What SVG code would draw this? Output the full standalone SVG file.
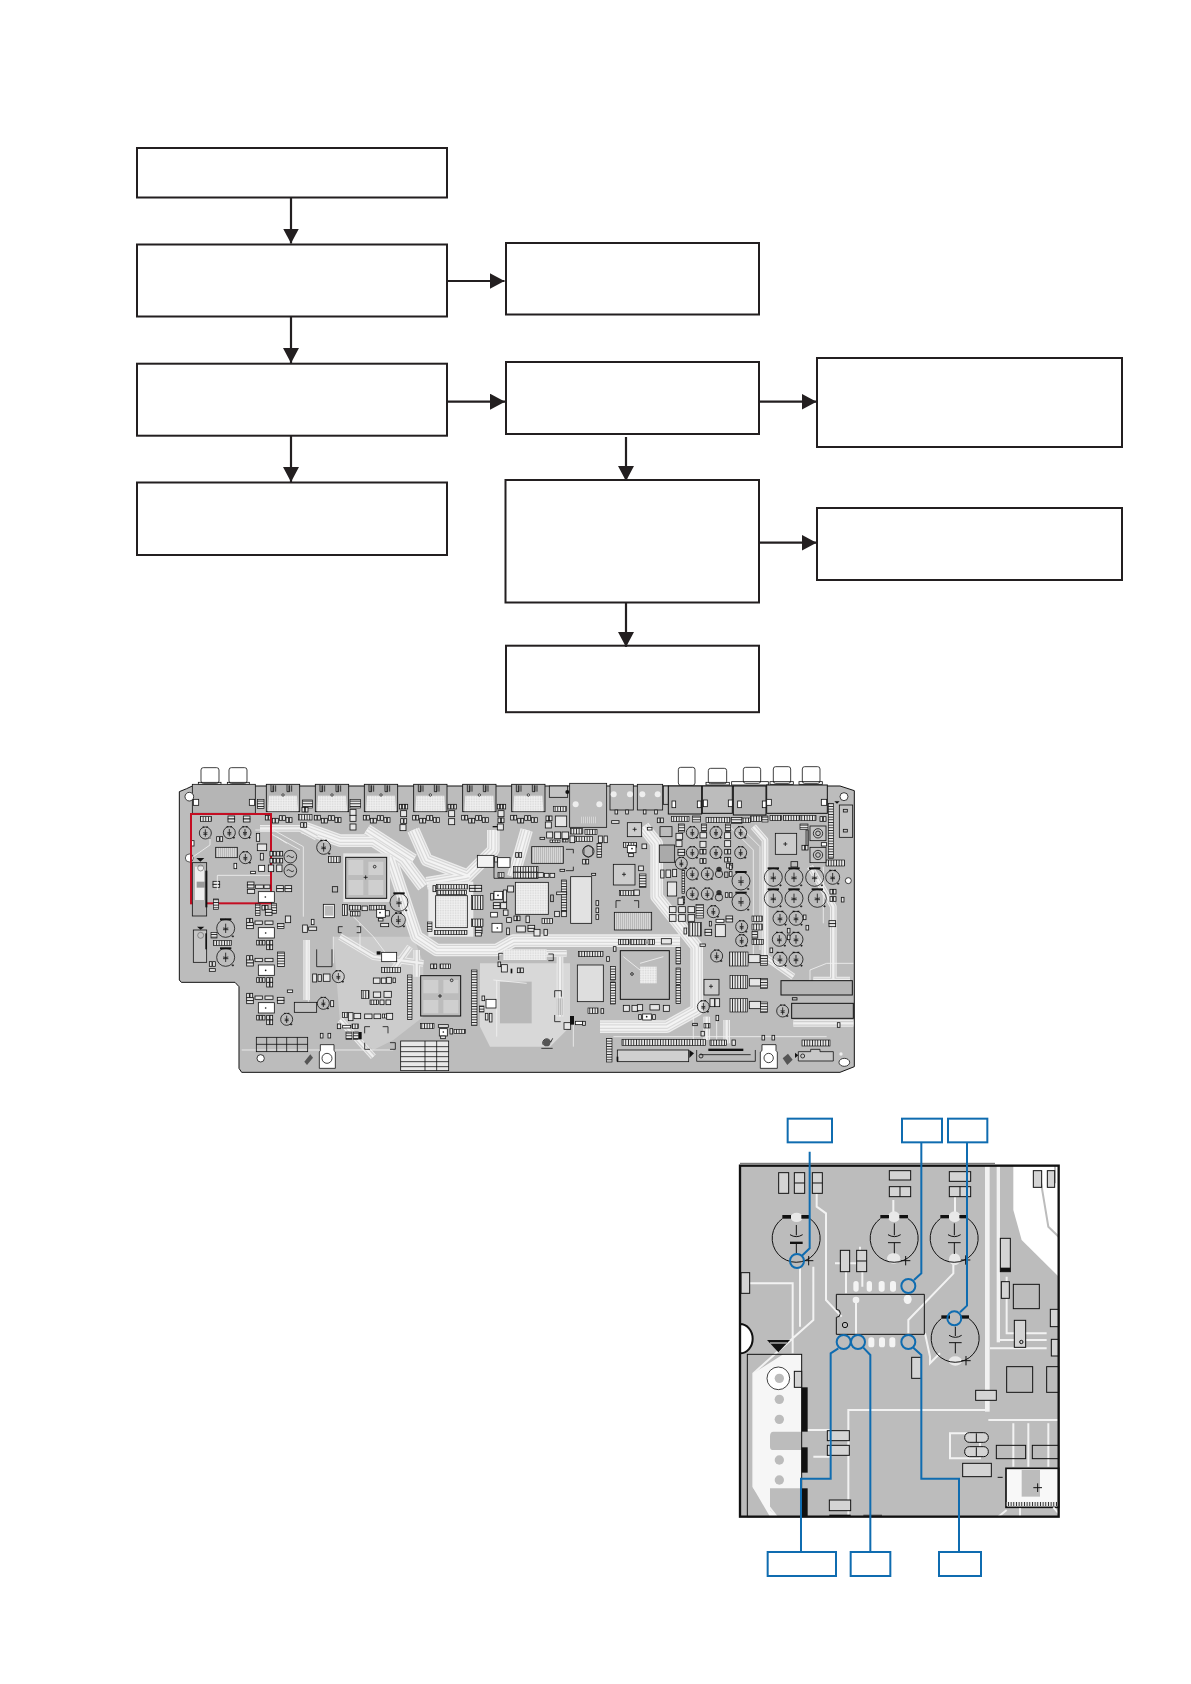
<svg xmlns="http://www.w3.org/2000/svg" width="1191" height="1684" viewBox="0 0 1191 1684">
<style>
.box{fill:#fff;stroke:#231f20;stroke-width:2}
.con{fill:none;stroke:#231f20;stroke-width:2.2;marker-end:url(#ah)}
.k{fill:none;stroke:#111;stroke-width:2.4}
.w{fill:#fff;stroke:#111;stroke-width:2.4}
.g{fill:#c4c4c4;stroke:#111;stroke-width:2.4}
.l{fill:#e6e6e6;stroke:#111;stroke-width:2.4}
.b{fill:#111;stroke:none}
.fine{fill:none;stroke:#f0f0f0;stroke-width:2.5}
.row{fill:url(#row);stroke:#111;stroke-width:2}
.col{fill:url(#col);stroke:#111;stroke-width:2}
.dot{fill:url(#dot);stroke:#111;stroke-width:2.4}
.hat{fill:url(#hat);stroke:#111;stroke-width:2.4}
.blue{fill:none;stroke:#0f6cb0;stroke-width:6}
.lab{fill:#fff;stroke:#0f6cb0;stroke-width:6}
.tr{fill:none;stroke:#f2f2f2;stroke-width:6}
.in{fill:none;stroke:#111;stroke-width:3}
.pad{fill:#d4d4d4;stroke:#111;stroke-width:3}
</style>
<defs>
<marker id="ah" markerUnits="userSpaceOnUse" markerWidth="15" markerHeight="16" refX="15" refY="8" orient="auto"><path d="M0 0L15 8L0 16z" fill="#231f20"/></marker>
<pattern id="row" width="8" height="8" patternUnits="userSpaceOnUse"><rect width="8" height="8" fill="#e8e8e8"/><rect width="2.4" height="8" fill="#111"/></pattern>
<pattern id="col" width="8" height="8" patternUnits="userSpaceOnUse"><rect width="8" height="8" fill="#e8e8e8"/><rect width="8" height="2.4" fill="#111"/></pattern>
<pattern id="dot" width="5" height="5" patternUnits="userSpaceOnUse"><rect width="5" height="5" fill="#f2f2f2"/><circle cx="2" cy="2" r="1.2" fill="#aaa"/></pattern>
<pattern id="hat" width="6" height="6" patternUnits="userSpaceOnUse"><rect width="6" height="6" fill="#d6d6d6"/><rect width="2" height="6" fill="#ababab"/></pattern>
<g id="wb">
<path d="M430 232L540 272H640L730 330L790 410"/>
<path d="M620 240L760 330"/>
<path d="M760 240L800 330L930 380"/>
<path d="M1000 240L1000 300L920 380L800 400"/>
<path d="M1100 240L1060 380"/>
<path d="M690 320L770 560L830 600H1010L1060 572H1560"/>
<path d="M1450 230L1490 280V440L1610 590V780L1520 830H1320"/>
</g>
<g id="nb">
<path d="M300 235H420L470 262"/>
<path d="M540 560L640 620L790 640"/>
<path d="M770 600V680"/>
<path d="M1070 610H1220"/>
<path d="M1200 620V800"/>
<path d="M540 810L640 920"/>
<path d="M440 570V750"/>
<path d="M700 660L750 590"/>
<path d="M1780 230L1815 270V620L1900 680"/>
<path d="M1950 350L2020 470V690"/>
<path d="M1960 690H2070M1900 820H2080"/>
<path d="M1640 870V800M1700 880V810"/>
</g>
<g id="u"><rect width="8" height="14" class="l"/></g>
<g id="v"><rect width="8" height="14" class="l"/><rect x="10" width="8" height="14" class="l"/></g>
<g id="t"><rect width="7" height="14" class="l"/><rect x="9" width="7" height="14" class="l"/><rect x="18" width="7" height="14" class="l"/></g>
<g id="s"><rect width="20" height="9" class="l"/><rect y="9" width="20" height="9" class="l"/></g>
<g id="q"><rect width="18" height="18" class="l"/></g>
<g id="c"><circle r="18" class="k"/><path class="k" d="M0-11V11M-6-1q6 3 12 0M-6 4H6M10 15h7M13.500 12v6" stroke-width="2"/><path d="M-8-18h5M3-18h5" stroke="#111" stroke-width="3"/></g>
<g id="cm"><circle r="21" class="k"/><path class="k" d="M0-13V13M-7-1q7 3 14 0M-7 4H7M13 19h7M16.500 16v6"/><path d="M-10-21h6M4-21h6" stroke="#111" stroke-width="4"/></g>
<g id="cb"><circle r="27" class="k" fill="none"/><path class="k" d="M0-14V14M-8-1q8 3 16 0M-8 4H8M18 24h7M21.500 21v6"/><path d="M-17-27h34" stroke="#111" stroke-width="6"/></g>
<g id="h"><rect width="100" height="82" fill="#b5b5b5" stroke="#111" stroke-width="2.600"/><path d="M8 34H92L95 81H5z" fill="url(#dot)"/><path class="k" d="M14 1V22H22V3M20 3V22M28 3V22M62 1V22H70V3M68 3V22M76 3V22"/><circle cx="50" cy="32" r="3.500" class="w"/><use href="#v" x="-3" y="93"/><use href="#v" x="18" y="102"/><use href="#v" x="39" y="94"/><use href="#v" x="59" y="100"/></g>
<g id="tq"><rect x="0" y="0" width="48" height="31" class="w"/><circle cx="22" cy="16" r="2.500" class="b"/><use href="#v" x="-35" y="-28"/><use href="#s" x="-35" y="-15"/><rect x="-10" y="-20" width="22" height="10" class="l"/><rect x="20" y="-20" width="24" height="10" class="l"/><use href="#t" x="-5" y="38"/><use href="#v" x="25" y="38"/><use href="#v" x="25" y="52"/></g>
</defs>

<g id="n1"><rect class="box" x="137" y="148" width="310" height="49.500"/></g>
<g id="n2"><rect class="box" x="137" y="244.500" width="310" height="72"/></g>
<g id="n3"><rect class="box" x="137" y="363.700" width="310" height="72"/></g>
<g id="n4"><rect class="box" x="137" y="482.500" width="310" height="72.500"/></g>
<g id="n5"><rect class="box" x="506" y="243" width="253" height="71.500"/></g>
<g id="n6"><rect class="box" x="506" y="362" width="253" height="72"/></g>
<g id="n7"><rect class="box" x="505.500" y="480" width="253.500" height="122.500"/></g>
<g id="n8"><rect class="box" x="506" y="645.700" width="253" height="66.500"/></g>
<g id="n9"><rect class="box" x="817" y="358" width="305" height="89"/></g>
<g id="n10"><rect class="box" x="817" y="508" width="305" height="72"/></g>
<g id="connectors">
<path class="con" d="M291 197.500V243.500"/>
<path class="con" d="M291 316.500V363"/>
<path class="con" d="M291 435.700V482"/>
<path class="con" d="M447 281H504.500"/>
<path class="con" d="M447 401.700H505"/>
<path class="con" d="M626 437V481"/>
<path class="con" d="M626 602.500V647"/>
<path class="con" d="M759 401.700H816.500"/>
<path class="con" d="M759 542.700H816.500"/>
</g>

<g id="board" transform="translate(160,750) scale(0.33333)">
<path d="M58 125L80 116L97 108H2040L2083 122V950L2040 967H245L237 955V710L225 697H64L58 690z" fill="#bcbcbc" stroke="#111" stroke-width="3"/>
<path d="M960 640H1230V830L1170 890H990L960 830z" fill="#d8d8d8"/><rect x="1020" y="695" width="95" height="125" fill="#b8b8b8"/>
<path d="M520 560H760L790 640V800L700 870L640 900L540 820z" fill="#cccccc"/>
<g fill="none" stroke-linejoin="round">
<use href="#wb" stroke="#ececec" stroke-width="38"/><use href="#wb" stroke="#d4d4d4" stroke-width="30"/><use href="#wb" stroke="#f2f2f2" stroke-width="24"/><use href="#wb" stroke="#dadada" stroke-width="14"/><use href="#wb" stroke="#f4f4f4" stroke-width="7"/>
<use href="#nb" stroke="#ececec" stroke-width="20"/><use href="#nb" stroke="#cfcfcf" stroke-width="14"/><use href="#nb" stroke="#f0f0f0" stroke-width="7"/>
</g>
<path class="fine" d="M286 240H340L430 290V500M330 250L420 300M350 260L380 280M445 570V760M520 560V640M1000 690L1100 700M1360 860H2000M245 900H700"/>
<path class="fine" d="M560 480L640 560L700 640M600 520V600M1010 860V690M1240 820V890M1600 870V800M1670 880V810"/>
<path class="fine" d="M1700 220L1780 300V620L1880 660M1740 230L1800 290V600M1990 350V520M2000 640H2080M1950 720V660L2000 640"/>
<rect x="550" y="310" width="140" height="146" fill="#e4e4e4"/>
<rect x="805" y="395" width="135" height="165" fill="#eaeaea"/>

<rect class="w" x="123" y="53" width="54" height="47" rx="7"/><rect class="w" x="207" y="53" width="54" height="47" rx="7"/>
<rect class="k" x="115" y="97" width="68" height="6"/><rect class="k" x="202" y="97" width="66" height="6"/>
<rect x="97" y="103" width="189" height="87" fill="#b5b5b5" stroke="#111" stroke-width="2.400"/>
<circle cx="88" cy="140" r="13" class="w"/><rect class="w" x="100" y="148" width="16" height="18"/><rect class="w" x="268" y="148" width="16" height="18"/>
<circle cx="88" cy="324" r="12" fill="#fff" stroke="#111" stroke-width="2"/>
<rect class="w" x="94" y="272" width="8" height="16"/>
<use href="#h" x="319" y="103"/><use href="#h" x="466" y="103"/><use href="#h" x="613" y="103"/><use href="#h" x="761" y="103"/><use href="#h" x="908" y="103"/><use href="#h" x="1055" y="103"/>
<rect class="col" x="292" y="148" width="20" height="28"/><rect class="col" x="428" y="150" width="30" height="24"/><use href="#v" x="426" y="172"/><rect class="row" x="416" y="194" width="40" height="16"/><use href="#v" x="422" y="218"/>
<rect class="col" x="570" y="148" width="32" height="26"/><use href="#q" x="570" y="178"/><use href="#q" x="570" y="196"/><use href="#q" x="570" y="222"/>
<use href="#t" x="718" y="163"/><use href="#q" x="722" y="182"/><use href="#v" x="722" y="206"/><use href="#q" x="720" y="224"/>
<use href="#t" x="864" y="163"/><use href="#q" x="866" y="182"/><use href="#q" x="866" y="206"/>
<use href="#t" x="1012" y="163"/><use href="#q" x="1014" y="182"/><use href="#v" x="1014" y="204"/><use href="#q" x="1012" y="222"/><rect class="b" x="998" y="228" width="14" height="4"/>
<rect class="g" x="1168" y="108" width="55" height="34"/><circle cx="1222" cy="126" r="6" class="b"/><rect class="row" x="1180" y="170" width="40" height="14"/>
<rect x="1229" y="100" width="111" height="132" fill="#bcbcbc" stroke="#111" stroke-width="2.400"/><circle cx="1247" cy="163" r="9" fill="#eee"/><circle cx="1318" cy="163" r="9" fill="#eee"/><path d="M1260 200h50v20h-50z" fill="url(#hat)"/>

<rect x="93" y="192" width="240" height="268" fill="none" stroke="#c40d22" stroke-width="6"/>
<rect class="row" x="121" y="200" width="34" height="14"/><use href="#s" x="204" y="198"/><use href="#s" x="250" y="198"/>
<use href="#c" x="136" y="249"/><use href="#c" x="208" y="248"/><use href="#c" x="255" y="248"/><use href="#c" x="256" y="323"/>
<use href="#v" x="170" y="260"/><rect class="l" x="289" y="250" width="10" height="24"/><rect class="l" x="292" y="282" width="28" height="20"/><rect class="l" x="301" y="310" width="9" height="20"/><rect class="hat" x="167" y="292" width="65" height="31"/><rect class="w" x="222" y="340" width="8" height="16"/><rect class="w" x="272" y="364" width="14" height="7"/><rect class="w" x="296" y="346" width="18" height="18"/>
<use href="#v" x="330" y="304"/><use href="#v" x="350" y="304"/><use href="#v" x="330" y="325"/><use href="#v" x="350" y="325"/><rect class="l" x="325" y="345" width="16" height="20"/><rect class="l" x="350" y="345" width="16" height="20"/>
<circle cx="391" cy="320" r="19" class="k"/><circle cx="391" cy="362" r="19" class="k"/><path class="k" d="M380 320q6-6 11 0t11 0M380 362q6-6 11 0t11 0"/>
<rect x="97" y="338" width="43" height="160" fill="#b5b5b5" stroke="#111" stroke-width="2.400"/><path d="M105 350H132V450H105z" fill="#eee"/><rect x="110" y="395" width="30" height="18" fill="#999"/><circle cx="122" cy="354" r="9" fill="none" stroke="#666" stroke-width="2"/><rect class="b" x="136" y="362" width="6" height="110"/><path class="b" d="M109 324h24l-12 11z"/>
<use href="#s" x="159" y="394"/><rect class="col" x="160" y="447" width="16" height="32"/>
<path class="fine" d="M172 420V376H330M100 320L150 285V260"/>
<use href="#s" x="262" y="396"/><rect class="l" x="262" y="418" width="22" height="12"/><rect class="l" x="286" y="405" width="24" height="10"/><rect class="l" x="312" y="405" width="18" height="10"/><use href="#s" x="350" y="407"/><use href="#s" x="375" y="407"/>
<rect class="w" x="295" y="425" width="48" height="32"/><circle cx="316" cy="441" r="2.500" class="b"/>
<rect class="col" x="286" y="462" width="14" height="34"/><use href="#v" x="306" y="466"/><rect class="col" x="334" y="460" width="16" height="30"/><use href="#s" x="316" y="478"/>
<g transform="translate(295,533)"><use href="#tq"/></g><g transform="translate(295,645)"><use href="#tq"/></g><g transform="translate(295,758)"><use href="#tq"/></g>
<rect class="col" x="352" y="520" width="20" height="16"/><rect class="l" x="376" y="498" width="16" height="20"/><rect class="col" x="352" y="606" width="22" height="44"/><use href="#s" x="352" y="742"/><rect class="w" x="382" y="720" width="16" height="7"/>
<rect x="100" y="540" width="40" height="97" class="g"/><circle cx="122" cy="556" r="9" fill="none" stroke="#666" stroke-width="2"/><rect class="b" x="136" y="550" width="5" height="48"/><path class="b" d="M111 530h22l-11 9z"/>
<use href="#cb" x="197" y="535"/><use href="#cb" x="197" y="622"/><rect class="row" x="160" y="572" width="54" height="14"/><rect class="col" x="153" y="548" width="18" height="16"/><use href="#v" x="148" y="635"/><rect class="l" x="148" y="656" width="18" height="8"/>
<rect class="l" x="428" y="525" width="14" height="22"/><rect class="l" x="446" y="531" width="24" height="10"/><rect class="w" x="454" y="508" width="8" height="16"/>
<use href="#cm" x="491" y="292"/><rect class="row" x="505" y="320" width="36" height="18"/><rect class="k" x="517" y="410" width="16" height="16"/>
<rect x="557" y="322" width="123" height="123" fill="#bcbcbc" stroke="#111" stroke-width="3"/><path fill="#cfcfcf" d="M565 330H610V375H565zM625 335H670V375H625zM565 390H610V435H565zM625 390H670V435H625z"/><path class="k" d="M611 382h12M617 376v12"/>
<circle cx="644" cy="350" r="4" class="k"/>
<rect class="w" x="490" y="463" width="33" height="40"/><rect x="494" y="467" width="26" height="30" fill="#bbb"/>
<rect class="row" x="548" y="464" width="14" height="32"/><rect class="row" x="568" y="466" width="34" height="14"/><rect class="row" x="572" y="484" width="28" height="14"/><rect class="l" x="606" y="468" width="16" height="14"/><rect class="row" x="628" y="466" width="48" height="14"/>
<rect class="w" x="650" y="478" width="26" height="24"/><circle cx="660" cy="488" r="2.500" class="b"/><rect class="l" x="676" y="482" width="12" height="16"/><rect class="l" x="655" y="505" width="14" height="8"/><rect class="l" x="662" y="520" width="24" height="10"/>
<use href="#cb" x="717" y="457"/><use href="#cm" x="715" y="510"/>
<path class="k" d="M548 530h-13v18h10M590 530h12v18h-12"/>
<rect class="col" x="802" y="516" width="14" height="28"/>
<path class="k" d="M470 598V650H516V598"/>
<rect class="l" x="458" y="672" width="12" height="24"/><rect class="l" x="474" y="674" width="10" height="20"/><rect class="l" x="490" y="672" width="20" height="22"/>
<use href="#c" x="535" y="680"/><use href="#c" x="490" y="760"/><use href="#c" x="380" y="808"/><rect class="g" x="403" y="757" width="67" height="30"/><rect class="l" x="512" y="752" width="9" height="18"/>
<rect class="w" x="665" y="607" width="45" height="28"/><rect class="b" x="650" y="604" width="12" height="10"/><rect class="row" x="665" y="652" width="56" height="16"/><rect class="l" x="640" y="684" width="20" height="16"/><rect class="l" x="664" y="684" width="14" height="16"/><rect class="l" x="680" y="682" width="14" height="18"/><rect class="l" x="699" y="684" width="7" height="14"/>
<rect class="row" x="605" y="722" width="22" height="24"/><rect class="l" x="640" y="726" width="22" height="16"/><rect class="l" x="672" y="724" width="22" height="18"/><rect class="row" x="630" y="750" width="26" height="14"/><rect class="l" x="660" y="750" width="12" height="14"/><rect class="l" x="678" y="750" width="14" height="14"/>
<rect class="row" x="548" y="788" width="16" height="14"/><rect class="l" x="565" y="788" width="14" height="24"/><rect class="l" x="582" y="790" width="20" height="16"/><rect class="l" x="614" y="792" width="22" height="14"/><rect class="l" x="642" y="792" width="20" height="14"/><rect class="l" x="680" y="790" width="18" height="18"/><rect class="row" x="668" y="792" width="12" height="12"/>
<rect class="l" x="532" y="822" width="10" height="14"/><rect class="w" x="548" y="826" width="24" height="8"/><rect class="row" x="576" y="822" width="20" height="14"/><rect class="col" x="558" y="846" width="18" height="22"/><rect class="col" x="580" y="846" width="16" height="22"/><rect class="b" x="597" y="846" width="8" height="22"/>
<path class="k" d="M630 830h-16v20M668 830h16v20M630 898h-16v-20M690 878h16v20h-16"/>
<rect class="col" x="743" y="675" width="13" height="134"/><rect class="col" x="935" y="660" width="16" height="166"/>
<rect x="782" y="677" width="120" height="121" fill="#bcbcbc" stroke="#111" stroke-width="3"/><path fill="#cfcfcf" d="M790 690H835V730H790zM850 690H895V730H850zM790 750H835V790H790zM850 750H895V790H850z"/><path class="k" d="M834 738h12M840 732v12"/><circle cx="875" cy="691" r="4" class="k"/>
<use href="#v" x="812" y="642"/><rect class="row" x="840" y="642" width="32" height="14"/><rect class="row" x="782" y="820" width="40" height="16"/>
<rect class="l" x="835" y="824" width="30" height="8"/><rect class="w" x="838" y="836" width="24" height="22"/><circle cx="850" cy="846" r="2.500" class="b"/><rect class="l" x="842" y="858" width="14" height="8"/><rect class="l" x="870" y="836" width="8" height="16"/><rect class="row" x="882" y="838" width="34" height="12"/>
<rect class="w" x="978" y="748" width="30" height="26"/><rect class="l" x="966" y="738" width="8" height="14"/><rect class="col" x="958" y="768" width="14" height="18"/><rect class="l" x="976" y="790" width="8" height="20"/><rect class="l" x="988" y="790" width="8" height="26"/>
<rect x="289" y="862" width="154" height="43" fill="none" stroke="#111" stroke-width="2.400"/><path class="k" d="M320 862V905M350 862V905M380 862V905M412 862V905M289 883H443"/><circle cx="302" cy="925" r="11" class="w"/>
<path d="M433 935l18-22 8 10-18 22z" fill="#555"/>
<use href="#u" x="481" y="850"/><use href="#u" x="504" y="850"/><path class="w" d="M481 884H522V902L526 906V955H478V906L481 902z"/><circle cx="501" cy="925" r="15" class="w"/>
<rect x="722" y="873" width="144" height="89" fill="#e8e8e8" stroke="#111" stroke-width="2.400"/><path class="k" d="M795 873V962M830 873V962M722 890H866M722 905H866M722 920H866M722 935H866M722 950H866"/>
<path class="k" d="M1144 895H1178M1150 885a12 12 0 1 1 22-8l6-12"/><circle cx="1160" cy="878" r="11" fill="#555"/>

<rect class="hat" x="952" y="316" width="50" height="36" style="fill:#f2f2f2"/><path class="k" d="M1002 320V385H1135"/><rect class="w" x="1013" y="323" width="37" height="29"/><rect class="l" x="1004" y="320" width="8" height="16"/><use href="#v" x="1067" y="308"/><rect class="row" x="1060" y="350" width="74" height="16"/><rect class="row" x="1060" y="368" width="74" height="16"/><rect class="row" x="1014" y="368" width="18" height="14"/><rect class="l" x="1134" y="368" width="16" height="14"/><rect class="l" x="1153" y="370" width="14" height="12"/><rect class="l" x="1170" y="370" width="14" height="12"/>
<rect class="row" x="830" y="404" width="92" height="13"/><rect class="row" x="830" y="421" width="90" height="13"/><rect class="l" x="819" y="407" width="8" height="18"/><use href="#s" x="928" y="406"/><use href="#s" x="945" y="406"/>
<rect class="dot" x="827" y="437" width="95" height="96"/><rect class="row" x="823" y="541" width="98" height="13"/>
<rect class="row" x="935" y="437" width="34" height="42"/><rect class="row" x="935" y="507" width="34" height="22"/><use href="#s" x="946" y="532"/><rect class="l" x="946" y="548" width="18" height="10"/>
<rect class="dot" x="1066" y="397" width="99" height="96"/><use href="#q" x="1043" y="408"/>
<rect class="l" x="992" y="430" width="8" height="20"/><rect class="w" x="1002" y="424" width="26" height="24"/><circle cx="1014" cy="436" r="2.500" class="b"/><rect class="l" x="1030" y="420" width="10" height="36"/><use href="#s" x="1000" y="458"/><rect class="l" x="1022" y="458" width="18" height="18"/><rect class="w" x="992" y="487" width="20" height="14"/><rect class="l" x="1030" y="480" width="14" height="16"/><rect class="l" x="1040" y="503" width="14" height="14"/>
<use href="#v" x="1062" y="498"/><rect class="l" x="1098" y="498" width="10" height="20"/><rect class="row" x="1146" y="506" width="32" height="14"/><rect class="w" x="996" y="520" width="30" height="26"/><circle cx="1012" cy="534" r="2.500" class="b"/><rect class="l" x="1040" y="534" width="8" height="20"/><rect class="l" x="1070" y="528" width="26" height="18"/><use href="#s" x="1104" y="526"/><rect class="l" x="1122" y="538" width="18" height="20"/><rect class="l" x="1152" y="538" width="10" height="18"/>
<rect class="k" x="1172" y="435" width="8" height="20"/><rect class="col" x="1204" y="390" width="16" height="96"/><rect class="l" x="1184" y="484" width="14" height="16"/><rect class="l" x="1205" y="484" width="14" height="16"/><rect class="l" x="1190" y="426" width="30" height="8"/>
<rect class="hat" x="1115" y="290" width="95" height="50"/><path class="k" d="M1218 298h22v12M1218 362h22v-12"/><circle cx="1285" cy="304" r="17" class="k"/><path d="M1272 294l13-8 13 8v20l-13 8-13-8z" fill="none" stroke="#111" stroke-width="2"/><use href="#v" x="1268" y="328"/><rect class="col" x="1311" y="280" width="14" height="42"/><rect class="l" x="1200" y="358" width="14" height="6"/>
<rect class="row" x="1232" y="236" width="36" height="16"/><rect class="row" x="1275" y="238" width="36" height="16"/><rect class="row" x="1245" y="260" width="52" height="14"/><rect class="l" x="1315" y="258" width="12" height="20"/><rect class="l" x="1332" y="258" width="10" height="20"/>
<use href="#v" x="1158" y="198"/><rect class="l" x="1186" y="198" width="34" height="32"/><rect class="l" x="1156" y="216" width="18" height="18"/><rect class="l" x="1160" y="246" width="18" height="18"/><rect class="l" x="1184" y="246" width="18" height="20"/><rect class="l" x="1206" y="246" width="20" height="20"/><rect class="row" x="1208" y="268" width="16" height="8"/><rect class="row" x="1170" y="270" width="30" height="7"/><rect class="l" x="1230" y="258" width="14" height="20"/><rect class="l" x="1140" y="262" width="14" height="6"/>
<rect x="1232" y="380" width="63" height="140" fill="#e2e2e2" stroke="#111" stroke-width="2.400"/><rect class="l" x="1295" y="370" width="12" height="6"/><rect class="l" x="1308" y="452" width="8" height="14"/><rect class="l" x="1308" y="474" width="8" height="14"/><rect class="l" x="1308" y="494" width="8" height="14"/>
<path class="k" d="M1030 610H1016V630M1165 612H1180V632H1165"/><rect x="1030" y="598" width="130" height="32" fill="url(#dot)"/>
<rect class="l" x="1014" y="636" width="8" height="14"/><rect class="l" x="1024" y="644" width="18" height="22"/><rect class="b" x="1052" y="656" width="5" height="14"/><use href="#v" x="1072" y="654"/>
<path class="k" d="M1184 742v-20h20v18M1184 795v20h18"/><rect x="1190" y="745" width="18" height="50" fill="url(#hat)"/><rect class="l" x="1212" y="818" width="20" height="20"/><rect class="b" x="1230" y="798" width="12" height="26"/><rect class="w" x="1246" y="814" width="22" height="10"/><rect class="l" x="1268" y="814" width="8" height="12"/>
<rect class="row" x="1255" y="604" width="74" height="16"/><rect class="l" x="1340" y="620" width="8" height="14"/>
<rect x="1252" y="645" width="78" height="110" fill="#dedede" stroke="#111" stroke-width="2.400"/><rect class="row" x="1284" y="774" width="30" height="16"/><rect class="l" x="1323" y="776" width="8" height="14"/>

<g transform="translate(1020,0)">
<rect class="l" x="335" y="212" width="22" height="8"/><rect class="w" x="330" y="103" width="70" height="77" style="fill:#bcbcbc"/><rect class="w" x="412" y="103" width="76" height="77" style="fill:#bcbcbc"/><circle cx="341" cy="133" r="9" fill="#eee"/><circle cx="390" cy="133" r="9" fill="#eee"/><circle cx="427" cy="133" r="9" fill="#eee"/><circle cx="473" cy="133" r="9" fill="#eee"/><rect class="l" x="345" y="180" width="8" height="12"/><rect class="l" x="377" y="180" width="8" height="12"/><rect class="l" x="430" y="180" width="8" height="12"/><rect class="l" x="464" y="180" width="8" height="12"/><rect class="g" x="490" y="108" width="15" height="55"/>
<rect class="w" x="535" y="52" width="50" height="54" rx="7"/><rect class="w" x="625" y="55" width="55" height="46" rx="7"/><rect class="w" x="730" y="52" width="52" height="48" rx="7"/><rect class="w" x="820" y="50" width="52" height="50" rx="7"/><rect class="w" x="907" y="50" width="53" height="50" rx="7"/>
<rect class="k" x="618" y="97" width="70" height="8"/><rect class="k" x="695" y="95" width="110" height="10"/><rect class="k" x="810" y="95" width="70" height="8"/><rect class="k" x="897" y="95" width="70" height="8"/>
<rect x="505" y="108" width="100" height="84" fill="#b5b5b5" stroke="#111" stroke-width="3"/><rect x="607" y="108" width="90" height="82" fill="#bcbcbc" stroke="#111" stroke-width="3"/><rect x="700" y="108" width="98" height="87" fill="#b5b5b5" stroke="#111" stroke-width="3"/><rect x="800" y="105" width="182" height="85" fill="#bcbcbc" stroke="#111" stroke-width="3"/>
<rect class="w" x="516" y="153" width="11" height="20"/><rect class="w" x="592" y="153" width="11" height="20"/><rect class="w" x="610" y="150" width="12" height="20"/><rect class="w" x="685" y="150" width="12" height="20"/><rect class="w" x="713" y="153" width="11" height="20"/><rect class="w" x="787" y="153" width="11" height="20"/><rect class="w" x="800" y="148" width="14" height="18"/><rect class="w" x="964" y="148" width="16" height="18"/>
<circle cx="1032" cy="140" r="12" class="w"/>
<rect class="col" x="985" y="160" width="15" height="165"/><rect class="l" x="1018" y="165" width="40" height="97" style="fill:#c4c4c4"/><path class="b" d="M1003 154h16l-8 7z"/><rect class="k" x="1030" y="178" width="12" height="8"/><rect class="k" x="1030" y="238" width="12" height="8"/>
<rect class="row" x="515" y="200" width="52" height="14"/><rect class="col" x="578" y="198" width="24" height="18"/><rect class="row" x="618" y="202" width="72" height="16"/><rect class="col" x="694" y="202" width="32" height="18"/><rect class="row" x="726" y="204" width="26" height="14"/><rect class="row" x="752" y="198" width="32" height="16"/><rect class="col" x="786" y="198" width="18" height="18"/><rect class="row" x="810" y="196" width="34" height="16"/><rect class="row" x="850" y="196" width="48" height="16"/><rect class="row" x="900" y="196" width="48" height="16"/><use href="#v" x="960" y="200"/>
<rect class="w" x="382" y="218" width="43" height="42" style="fill:#ccc"/><path class="k" d="M398 238h12M404 232v12"/><rect class="w" x="442" y="232" width="14" height="8"/><use href="#v" x="472" y="204"/><rect class="w" x="480" y="230" width="36" height="30" style="fill:#bcbcbc"/><rect class="row" x="370" y="278" width="40" height="14"/><rect class="w" x="382" y="286" width="26" height="22"/><circle cx="396" cy="296" r="2.500" class="b"/><rect class="l" x="386" y="310" width="14" height="10"/><rect class="l" x="426" y="282" width="14" height="14"/>
<rect x="478" y="285" width="46" height="52" fill="#aaa" stroke="#111" stroke-width="2.400"/>
<rect class="col" x="536" y="222" width="18" height="24"/><rect class="l" x="528" y="250" width="20" height="18"/><rect class="col" x="604" y="222" width="16" height="22"/><rect class="l" x="600" y="248" width="20" height="16"/><rect class="col" x="676" y="222" width="16" height="22"/><rect class="l" x="674" y="248" width="18" height="18"/>
<rect class="l" x="528" y="272" width="18" height="18"/><rect class="l" x="600" y="274" width="18" height="18"/><rect class="l" x="674" y="272" width="18" height="18"/><use href="#s" x="534" y="298"/><use href="#v" x="600" y="298"/><use href="#v" x="600" y="326"/><use href="#v" x="674" y="298"/><use href="#v" x="674" y="322"/><use href="#v" x="680" y="340"/>
<use href="#c" x="577" y="248"/><use href="#c" x="648" y="248"/><use href="#c" x="722" y="248"/><use href="#c" x="577" y="308"/><use href="#c" x="648" y="308"/><use href="#c" x="722" y="308"/><use href="#c" x="544" y="340"/><use href="#c" x="577" y="372"/><use href="#c" x="622" y="372"/><use href="#c" x="577" y="432"/><use href="#c" x="622" y="432"/>
<circle cx="657" cy="358" r="8" fill="#333"/><circle cx="657" cy="372" r="11" class="k"/><circle cx="657" cy="428" r="8" fill="#333" /><circle cx="657" cy="442" r="11" class="k"/><use href="#u" x="688" y="345"/><use href="#u" x="688" y="365"/><use href="#u" x="688" y="428"/><use href="#u" x="676" y="428"/><rect class="k" x="674" y="366" width="10" height="16"/>
<rect class="l" x="482" y="360" width="10" height="24"/><rect class="l" x="498" y="360" width="14" height="22"/><rect class="l" x="518" y="358" width="12" height="22"/><rect class="col" x="546" y="360" width="8" height="70"/><rect class="l" x="502" y="396" width="28" height="42"/><rect class="col" x="546" y="440" width="8" height="22"/><rect class="l" x="534" y="444" width="16" height="20"/>
<use href="#cb" x="723" y="393"/><use href="#cb" x="723" y="455"/>
<use href="#cb" x="820" y="382"/><use href="#cb" x="882" y="382"/><use href="#cb" x="944" y="382"/><use href="#cm" x="998" y="382"/><use href="#cb" x="820" y="445"/><use href="#cb" x="882" y="445"/><use href="#cb" x="952" y="445"/>
<rect class="row" x="978" y="330" width="56" height="18"/><rect class="k" x="873" y="335" width="20" height="16"/><use href="#v" x="990" y="418"/><use href="#v" x="990" y="440"/><use href="#u" x="1024" y="442"/><circle cx="1045" cy="392" r="9" class="w"/>
<rect x="826" y="250" width="64" height="63" fill="#ccc" stroke="#111" stroke-width="2.400"/><path class="k" d="M850 282h12M856 276v12"/><rect class="row" x="918" y="240" width="8" height="46"/><rect class="col" x="900" y="222" width="24" height="16"/><use href="#v" x="906" y="286"/><rect class="w" x="964" y="278" width="16" height="10"/>
<rect class="g" x="930" y="228" width="48" height="44"/><circle cx="954" cy="250" r="14" class="k"/><circle cx="954" cy="250" r="7" class="k"/><rect class="g" x="930" y="292" width="48" height="46"/><circle cx="954" cy="315" r="14" class="k"/><circle cx="954" cy="315" r="7" class="k"/>
<rect x="340" y="343" width="65" height="62" fill="#ccc" stroke="#111" stroke-width="2.400"/><path class="k" d="M366 373h12M372 367v12"/><rect class="l" x="416" y="348" width="14" height="14"/><rect class="col" x="418" y="372" width="20" height="40"/><rect class="row" x="358" y="422" width="46" height="14"/><rect class="l" x="402" y="420" width="16" height="16"/><path class="k" d="M362 452h-14v22M402 452h14v22"/>
<rect class="hat" x="343" y="487" width="112" height="53"/>
<rect class="l" x="508" y="470" width="20" height="18"/><rect class="l" x="536" y="470" width="20" height="18"/><rect class="l" x="564" y="470" width="20" height="18"/><rect class="l" x="508" y="494" width="20" height="20"/><rect class="l" x="536" y="494" width="20" height="20"/><rect class="l" x="564" y="494" width="20" height="20"/><rect class="col" x="588" y="464" width="22" height="40"/><rect class="l" x="628" y="514" width="6" height="14"/>
<rect class="row" x="565" y="518" width="40" height="40"/><rect class="k" x="552" y="534" width="8" height="18"/><use href="#s" x="615" y="538"/>
<use href="#c" x="640" y="485"/><rect class="w" x="648" y="508" width="24" height="9"/><rect class="l" x="646" y="524" width="30" height="36"/><use href="#s" x="678" y="498"/><use href="#c" x="725" y="530"/><use href="#c" x="725" y="572"/>
<rect class="row" x="756" y="498" width="32" height="16"/><rect class="row" x="756" y="522" width="32" height="18"/><rect class="col" x="756" y="544" width="16" height="22"/><rect class="row" x="756" y="568" width="34" height="16"/>
<use href="#cm" x="840" y="505"/><use href="#cm" x="888" y="505"/><use href="#cm" x="838" y="568"/><use href="#cm" x="888" y="568"/><use href="#cm" x="840" y="628"/><use href="#cm" x="888" y="628"/>
<use href="#u" x="910" y="495"/><use href="#u" x="918" y="526"/><use href="#u" x="862" y="535"/><use href="#u" x="862" y="555"/><use href="#u" x="810" y="594"/><use href="#c" x="650" y="618"/><rect class="l" x="600" y="582" width="16" height="7"/>
<rect class="row" x="688" y="606" width="56" height="42"/><rect class="l" x="746" y="614" width="34" height="24"/><rect class="col" x="782" y="616" width="20" height="30"/>
<rect class="row" x="690" y="676" width="52" height="40"/><rect class="l" x="748" y="686" width="34" height="22"/><rect class="col" x="782" y="686" width="20" height="30"/>
<rect class="row" x="690" y="746" width="52" height="40"/><rect class="l" x="748" y="754" width="34" height="22"/><rect class="col" x="782" y="756" width="20" height="32"/>
<rect x="843" y="692" width="214" height="43" fill="#b5b5b5" stroke="#111" stroke-width="3"/><rect x="875" y="760" width="185" height="45" fill="#b5b5b5" stroke="#111" stroke-width="3"/><rect class="k" x="877" y="743" width="14" height="7"/>
<use href="#c" x="848" y="783"/><use href="#c" x="610" y="770"/><rect class="l" x="630" y="746" width="14" height="24"/><rect class="l" x="645" y="746" width="14" height="24"/>
<rect x="612" y="688" width="45" height="47" fill="#ccc" stroke="#111" stroke-width="2.400"/><path class="k" d="M627 709h12M633 703v12"/>
<rect x="361" y="602" width="147" height="146" fill="#bcbcbc" stroke="#111" stroke-width="3"/><rect x="420" y="650" width="50" height="50" fill="url(#dot)"/><circle cx="396" cy="672" r="4" class="k"/><path class="fine" d="M370 620L420 660M490 620L420 640"/>
<rect class="row" x="355" y="568" width="32" height="16"/><rect class="row" x="392" y="568" width="46" height="16"/><rect class="row" x="444" y="568" width="20" height="16"/><rect class="l" x="484" y="566" width="30" height="16"/><rect class="l" x="340" y="590" width="8" height="14"/><rect class="col" x="528" y="592" width="14" height="50"/><rect class="col" x="528" y="654" width="14" height="50"/><rect class="col" x="528" y="706" width="14" height="55"/>
<rect class="col" x="332" y="650" width="14" height="40"/><rect class="col" x="332" y="696" width="14" height="66"/>
<use href="#q" x="370" y="766"/><use href="#q" x="396" y="766"/><rect class="l" x="412" y="764" width="16" height="18"/><rect class="l" x="450" y="764" width="28" height="16"/><use href="#q" x="490" y="766"/><rect class="w" x="428" y="792" width="26" height="18"/><circle cx="440" cy="800" r="2.500" class="b"/><rect class="l" x="416" y="794" width="8" height="14"/><rect class="l" x="458" y="794" width="8" height="14"/>
<rect class="l" x="648" y="796" width="8" height="16"/><rect class="k" x="578" y="820" width="14" height="7"/><rect class="row" x="612" y="820" width="18" height="14"/><rect class="l" x="603" y="844" width="10" height="14"/>
<rect class="row" x="366" y="868" width="250" height="18"/><rect class="row" x="630" y="870" width="50" height="16"/><rect class="l" x="696" y="870" width="10" height="16"/><rect class="col" x="320" y="866" width="16" height="70"/>
<rect class="l" x="352" y="900" width="214" height="35" style="fill:#d0d0d0"/><rect class="b" x="350" y="920" width="5" height="14"/><path class="b" d="M568 900l14 10-14 14z"/><path d="M590 900V934H766V900M600 914H752" fill="none" stroke="#111" stroke-width="2.400"/><rect class="b" x="625" y="896" width="105" height="7"/><circle cx="603" cy="918" r="6" class="k"/>
<use href="#u" x="786" y="856"/><use href="#u" x="816" y="856"/><path class="w" d="M786 884H828V902L832 906V955H781V906L786 902z"/><circle cx="806" cy="924" r="14" class="w"/>
<path d="M848 925l16-14 14 18-16 16z" fill="#555"/><path class="b" d="M885 908l10 8-10 8z"/>
<rect class="row" x="906" y="870" width="84" height="18"/><path d="M895 905H932V898H960V905H1000V933H895z" fill="#c8c8c8" stroke="#111" stroke-width="2.400"/><circle cx="908" cy="918" r="6" class="k"/>
<ellipse cx="1033" cy="937" rx="16" ry="12" class="w"/><circle cx="1023" cy="912" r="5" fill="#eee"/><use href="#u" x="1012" y="818"/><use href="#s" x="987" y="512"/>
</g>
</g>

<g id="inset" transform="translate(720,1100) scale(0.33333)">
<rect x="60" y="197" width="956" height="1053" fill="#bcbcbc"/>
<path d="M880 197H1016V530L905 420L880 330z" fill="#fff"/><path d="M960 230L985 380L1016 410M1005 197V250" fill="none" stroke="#bcbcbc" stroke-width="6"/>
<rect x="795" y="197" width="14" height="738" fill="#f2f2f2"/><rect x="830" y="197" width="10" height="530" fill="#f2f2f2"/><path class="tr" d="M860 530V700H980M840 720H980M810 745H980"/>
<path class="tr" d="M62 550H218V760M280 500V660L100 820V1160L170 1250M240 500V680"/>
<path d="M100 820L190 763H245V995H160Q150 995 150 1010V1040Q150 1050 160 1050H245V1165H150V1230L170 1250H150L100 1165z" fill="#f6f6f6"/>
<path class="tr" d="M385 1250V930H800"/><path class="tr" d="M290 280V320L318 340V600L365 650"/><path class="tr" d="M408 600V700M565 700V660L700 520V470M615 700L630 770V790L660 760"/>
<path class="tr" d="M520 300V345M705 290V345"/><ellipse cx="522" cy="350" rx="18" ry="16" fill="#e8e8e8"/><ellipse cx="704" cy="350" rx="18" ry="16" fill="#e8e8e8"/><ellipse cx="521" cy="475" rx="20" ry="16" fill="#e8e8e8"/><ellipse cx="704" cy="478" rx="17" ry="18" fill="#e8e8e8"/><ellipse cx="230" cy="352" rx="18" ry="14" fill="#e8e8e8"/><ellipse cx="706" cy="783" rx="20" ry="14" fill="#e8e8e8"/>
<path class="tr" d="M345 490H420V440M378 515V580M427 510V560"/>
<g fill="#f4f4f4"><rect x="400" y="543" width="16" height="32" rx="8"/><rect x="440" y="543" width="16" height="32" rx="8"/><rect x="476" y="543" width="18" height="32" rx="8"/><rect x="510" y="543" width="18" height="32" rx="8"/><rect x="445" y="712" width="18" height="30" rx="8"/><rect x="477" y="712" width="18" height="30" rx="8"/><rect x="508" y="712" width="18" height="30" rx="8"/><ellipse cx="563" cy="598" rx="12" ry="14"/></g>
<path d="M60 672A38 44 0 0 1 60 760z" fill="#fff" stroke="#111" stroke-width="6"/>
<path class="tr" d="M690 1000H780V1075H690zM805 960H1016M880 970V1100M925 970V1100M985 970V1100M245 990H330V1070H280"/>
<path d="M885 975H920V1100H885zM930 975H970V1100H930z" fill="#bcbcbc"/>
<rect x="858" y="1105" width="158" height="117" fill="#f8f8f8" stroke="#111" stroke-width="5"/><path d="M905 1110H960V1190H905z" fill="#bcbcbc"/><path class="in" d="M940 1163H966M953 1150V1176M833 1132H848"/>
<rect x="860" y="1206" width="156" height="12" fill="url(#row)"/>
<path class="tr" d="M835 1250L860 1230M900 1225V1250M1000 1222L1016 1240"/>
<rect x="82" y="763" width="163" height="487" fill="none" stroke="#111" stroke-width="3"/>
<rect x="223" y="814" width="22" height="48" class="pad"/>
<circle cx="175" cy="835" r="34" class="w"/><g fill="#bcbcbc"><circle cx="178" cy="835" r="14"/><circle cx="178" cy="898" r="14"/><circle cx="178" cy="958" r="14"/><circle cx="178" cy="1080" r="14"/><circle cx="178" cy="1140" r="14"/></g>
<g fill="#111"><rect x="245" y="862" width="18" height="133"/><rect x="245" y="1042" width="18" height="76"/><rect x="245" y="1165" width="18" height="85"/><path d="M141 720H210L175 757z"/></g><rect x="150" y="727" width="52" height="4" fill="#bcbcbc"/>
<rect class="pad" x="176" y="218" width="30" height="62"/><rect class="pad" x="223" y="218" width="31" height="62"/><rect class="pad" x="277" y="218" width="30" height="62"/><path class="in" d="M223 249H254M277 249H307"/>
<rect class="pad" x="508" y="212" width="64" height="28"/><rect class="pad" x="508" y="260" width="64" height="30"/><path class="in" d="M540 260V290"/>
<rect class="pad" x="688" y="215" width="64" height="29"/><rect class="pad" x="688" y="260" width="64" height="30"/><path class="in" d="M720 260V290"/>
<rect class="pad" x="361" y="451" width="28" height="64"/><rect class="pad" x="410" y="451" width="30" height="64"/><path class="in" d="M410 483H440"/>
<rect class="pad" x="940" y="212" width="25" height="50"/><rect class="pad" x="982" y="212" width="22" height="50"/><rect class="pad" x="63" y="518" width="26" height="62"/>
<rect class="pad" x="575" y="772" width="29" height="63"/>
<rect class="pad" x="322" y="992" width="66" height="30"/><rect class="pad" x="322" y="1036" width="66" height="30"/><rect class="pad" x="328" y="1200" width="64" height="32"/>
<rect class="pad" x="841" y="415" width="30" height="100"/><rect class="pad" x="844" y="545" width="24" height="50"/><rect class="pad" x="883" y="661" width="34" height="81"/><rect class="pad" x="767" y="871" width="62" height="30"/><rect class="pad" x="829" y="1036" width="88" height="40" style="fill:none"/><rect class="pad" x="937" y="1036" width="79" height="40" style="fill:none"/><rect class="pad" x="728" y="1090" width="86" height="40"/>
<rect class="pad" x="991" y="628" width="25" height="52"/><rect class="pad" x="994" y="718" width="22" height="50"/>
<rect class="pad" x="880" y="553" width="78" height="73" style="fill:#bcbcbc"/><rect class="pad" x="860" y="800" width="78" height="77" style="fill:#bcbcbc"/><rect class="pad" x="980" y="800" width="36" height="77" style="fill:#bcbcbc"/>
<rect class="pad" x="734" y="998" width="71" height="29" rx="14"/><rect class="pad" x="734" y="1040" width="71" height="30" rx="14"/><path class="in" d="M769 1000V1026M769 1042V1068"/>
<rect x="841" y="503" width="30" height="12" fill="#111"/><rect x="328" y="1244" width="64" height="6" fill="#111"/><rect x="430" y="1244" width="56" height="4" fill="#555"/><circle cx="904" cy="726" r="5" fill="none" stroke="#111" stroke-width="3"/>
<path d="M349 583H613V703H349V652A12 12 0 0 0 349 628z" fill="none" stroke="#111" stroke-width="3"/><circle cx="375" cy="675" r="8" class="in"/>
<path class="tr" d="M408 600V700"/><circle cx="408" cy="600" r="10" fill="#f2f2f2"/>
<path class="in" d="M187 356A72 72 0 1 0 270 356"/><path class="in" d="M481 356A72 72 0 1 0 564 356"/><path class="in" d="M661 356A72 72 0 1 0 744 356"/><path class="in" d="M664 656A72 72 0 1 0 747 656"/>
<path class="in" d="M229 375V406M210 404q19 12 38 0M229 428V460M266 468V496M252 482H280"/>
<path class="in" d="M523 370V406M504 404q19 12 38 0M504 428H542M523 428V460M557 468V496M543 482H571"/>
<path class="in" d="M703 370V406M684 404q19 12 38 0M684 428H722M703 428V462M737 466V494M723 480H751"/>
<path class="in" d="M706 680V708M687 706q19 12 38 0M687 728H725M706 728V760M738 768V796M724 782H752"/>
<g fill="#111"><rect x="187" y="345" width="26" height="11"/><rect x="244" y="345" width="26" height="11"/><rect x="210" y="425" width="38" height="7"/><rect x="481" y="345" width="26" height="10"/><rect x="538" y="345" width="26" height="10"/><rect x="661" y="345" width="26" height="10"/><rect x="718" y="345" width="26" height="10"/><rect x="664" y="646" width="26" height="10"/><rect x="721" y="646" width="26" height="10"/></g>
<rect x="60" y="197" width="956" height="1053" fill="none" stroke="#111" stroke-width="7"/>
<path d="M60 190H825" stroke="#111" stroke-width="2"/>

<g id="bluelines">
<path class="blue" d="M269 155V445L245 468"/><circle class="blue" cx="231" cy="483" r="21"/>
<path class="blue" d="M604 127V520L582 540"/><circle class="blue" cx="565" cy="558" r="21"/>
<path class="blue" d="M741 127V617L720 637"/><circle class="blue" cx="703" cy="655" r="21"/>
<path class="blue" d="M355 745L332 760V1136H243V1356"/><circle class="blue" cx="371" cy="726" r="21"/>
<path class="blue" d="M430 743L451 765V1356"/><circle class="blue" cx="414" cy="726" r="21"/>
<path class="blue" d="M580 743L604 765V1136H717V1356"/><circle class="blue" cx="565" cy="726" r="21"/>
</g>
<g id="tag1"><rect class="lab" x="203" y="56" width="133" height="71"/></g>
<g id="tag2"><rect class="lab" x="546" y="56" width="120" height="71"/></g>
<g id="tag3"><rect class="lab" x="684" y="56" width="118" height="71"/></g>
<g id="tag4"><rect class="lab" x="143" y="1356" width="205" height="72"/></g>
<g id="tag5"><rect class="lab" x="392" y="1356" width="119" height="72"/></g>
<g id="tag6"><rect class="lab" x="657" y="1356" width="126" height="72"/></g>
</g>
</svg>
